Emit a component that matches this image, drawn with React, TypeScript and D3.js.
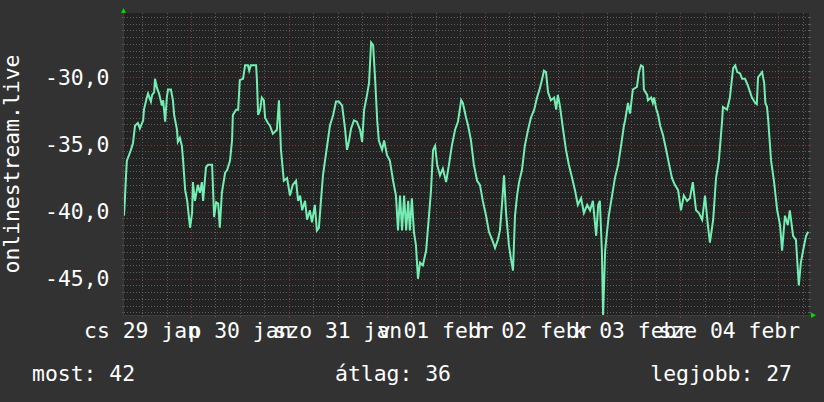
import React from 'react';
import * as d3 from 'd3';

// ---- data ----
const START = Date.UTC(2015, 0, 29, 7, 34);
const SPAN_HOURS = 168;
const hoursFromStart = [
  0, 0.2, 0.5, 0.7, 1.2, 1.7, 2.2, 2.7, 3.4, 3.9, 4.7, 4.9, 5.6, 5.9, 6.6, 6.9, 7.4, 7.6, 8.1, 8.6,
  9.3, 9.6, 10.1, 10.5, 10.8, 11.5, 12.0, 12.3, 13.0, 13.2, 13.7, 14.2, 14.5, 15.0, 15.5, 16.2, 16.7, 16.9, 17.4, 18.1,
  18.6, 19.1, 19.4, 20.1, 20.6, 21.6, 21.8, 22.1, 22.6, 23.1, 23.5, 24.0, 24.8, 25.3, 26.0, 26.5, 26.7, 27.5, 28.0, 28.4,
  29.2, 29.7, 30.4, 30.7, 31.1, 32.4, 32.6, 32.9, 33.4, 33.8, 34.3, 34.6, 35.3, 35.8, 36.5, 37.5, 38.0, 38.5, 39.2, 40.0,
  40.7, 41.4, 42.2, 42.7, 43.2, 43.7, 44.4, 44.9, 45.6, 46.1, 46.8, 47.3, 47.8, 48.3, 48.8, 49.3, 50.0, 50.5, 51.3, 52.0,
  52.7, 53.5, 54.2, 54.7, 55.2, 55.7, 56.4, 57.1, 57.9, 58.4, 58.9, 59.6, 60.1, 60.6, 61.1, 61.6, 62.1, 62.5, 63.3, 63.8,
  64.5, 65.2, 66.0, 66.7, 67.2, 67.7, 68.2, 68.7, 69.2, 69.7, 70.1, 70.6, 71.1, 71.6, 72.1, 72.6, 73.3, 74.1, 74.8, 75.3,
  75.8, 76.3, 76.8, 77.5, 78.2, 79.0, 79.7, 80.4, 81.2, 81.9, 82.7, 83.1, 83.9, 84.4, 85.1, 85.8, 86.6, 87.3, 88.0, 88.8,
  89.5, 90.3, 91.0, 91.7, 92.2, 92.7, 93.2, 93.7, 94.4, 94.9, 95.4, 95.9, 96.4, 96.9, 97.6, 98.3, 99.1, 99.8, 100.6, 101.3,
  102.0, 102.5, 103.0, 103.5, 104.0, 104.7, 105.5, 106.0, 106.4, 106.9, 107.7, 108.4, 109.1, 109.9, 110.6, 111.3, 112.1, 112.8, 113.6, 114.3,
  115.0, 115.8, 116.3, 116.7, 117.2, 117.5, 118.0, 118.5, 118.9, 119.7, 120.4, 121.2, 121.9, 122.6, 122.9, 123.6, 124.1, 124.8, 125.8, 126.3,
  126.8, 127.3, 127.5, 128.3, 128.5, 129.3, 129.7, 130.0, 130.5, 131.0, 131.5, 132.2, 132.9, 133.7, 134.4, 135.1, 135.9, 136.6, 137.3, 138.1,
  138.8, 139.5, 140.3, 141.0, 141.8, 142.5, 143.2, 143.7, 144.5, 145.2, 145.9, 146.7, 146.9, 147.9, 148.6, 149.4, 149.9, 150.4, 151.1, 151.6,
  152.3, 153.0, 154.0, 154.8, 155.2, 155.5, 156.5, 157.0, 157.3, 157.7, 158.0, 158.7, 159.4, 160.2, 160.9, 161.4, 162.1, 162.8, 163.3, 164.1,
  164.8, 165.5, 166.0, 166.8, 167.3, 167.8,
];
const signalValues = [
  -40.3, -39.2, -37.3, -36.2, -35.8, -35.4, -34.9, -33.6, -33.4, -33.8, -33.2, -32.4, -31.5, -31.2, -31.8, -31.3, -31.1, -30.1, -30.8, -31.2,
  -32.1, -31.7, -33.3, -31.5, -30.9, -30.9, -31.7, -32.8, -33.9, -34.8, -34.5, -35.1, -36.2, -38.4, -39.2, -41.2, -40.1, -37.8, -39.2, -38.0,
  -38.6, -37.8, -39.2, -36.7, -36.5, -36.5, -38.0, -40.4, -39.3, -39.4, -41.2, -38.6, -37.1, -36.9, -36.2, -34.7, -32.8, -32.4, -32.4, -30.2,
  -30.1, -29.1, -29.1, -29.5, -29.1, -29.1, -30.2, -32.8, -32.4, -31.5, -31.7, -33.0, -33.4, -33.6, -34.2, -33.9, -31.7, -35.4, -37.7, -37.5,
  -38.8, -38.0, -37.7, -39.2, -38.8, -39.9, -39.2, -40.6, -39.9, -40.8, -39.5, -41.4, -41.2, -39.2, -37.3, -36.2, -34.7, -33.6, -32.8, -31.8,
  -31.8, -32.1, -33.8, -35.4, -34.7, -33.8, -33.2, -33.3, -33.9, -34.8, -32.4, -31.3, -30.4, -27.4, -27.6, -30.2, -33.2, -34.7, -35.4, -34.7,
  -35.8, -36.2, -37.7, -38.8, -41.4, -38.8, -41.4, -38.8, -41.4, -39.2, -41.4, -39.0, -41.5, -42.5, -45.0, -43.8, -44.0, -42.9, -40.3, -38.4,
  -35.4, -35.1, -36.5, -37.3, -36.8, -37.8, -36.5, -35.1, -33.9, -33.3, -31.7, -31.9, -33.0, -33.6, -34.7, -36.5, -37.7, -38.0, -39.2, -40.3,
  -41.5, -42.1, -42.7, -42.1, -41.4, -39.5, -37.3, -40.1, -42.5, -43.5, -44.4, -40.3, -38.8, -37.8, -36.9, -35.1, -33.9, -33.0, -32.4, -31.5,
  -30.8, -30.2, -29.5, -29.6, -31.1, -31.7, -31.5, -32.4, -31.3, -32.1, -33.9, -35.4, -36.5, -37.5, -38.4, -39.5, -39.0, -40.1, -39.5, -39.9,
  -39.2, -41.8, -39.5, -39.2, -42.9, -47.7, -42.9, -41.4, -40.3, -38.8, -37.5, -36.5, -35.1, -33.6, -33.2, -31.9, -32.7, -30.9, -30.7, -29.6,
  -29.1, -29.2, -30.9, -31.3, -31.7, -31.5, -31.9, -31.5, -32.3, -32.8, -33.6, -34.3, -35.3, -36.5, -37.5, -38.0, -38.4, -39.9, -38.8, -39.2,
  -39.0, -37.8, -39.9, -40.1, -40.6, -38.8, -41.0, -42.3, -40.6, -37.5, -36.2, -33.2, -32.2, -32.4, -31.5, -29.3, -29.1, -29.6, -29.7, -30.1,
  -30.1, -30.6, -31.5, -31.9, -32.0, -30.0, -29.6, -30.4, -31.9, -32.2, -33.2, -36.2, -37.7, -39.9, -41.0, -42.9, -40.3, -41.0, -39.9, -41.8,
  -42.1, -45.5, -43.8, -42.5, -41.8, -41.5,
];
const yDomain = [-47.7, -25.2];
const yTicks = [-45, -40, -35, -30];
const dayLabels = ['cs 29 jan', 'p 30 jan', 'szo 31 jan', 'v 01 febr', 'h 02 febr', 'k 03 febr', 'sze 04 febr'];
const dayDates = [
  Date.UTC(2015, 0, 29), Date.UTC(2015, 0, 30), Date.UTC(2015, 0, 31), Date.UTC(2015, 1, 1),
  Date.UTC(2015, 1, 2), Date.UTC(2015, 1, 3), Date.UTC(2015, 1, 4),
];
const axisTitle = 'onlinestream.live';
const legendNames = ['most', 'átlag', 'legjobb'];
const legendValues = [42, 36, 27];

// ---- layout / style ----
const W = 824, H = 402;
const X0 = 124, X1 = 809, Y0 = 315, Y1 = 13;
const FONT = '"DejaVu Sans Mono", monospace';
const FS = 21.4;
const BG = '#323232';
const CANVAS = '#232323';
const GRID = '#5e5e5e';
const MGRID = '#7a3a3a';
const LINE = '#74eeb2';
const ARROW = '#00dc00';

export default function App() {
  const x = d3.scaleUtc().domain([new Date(START), new Date(START + SPAN_HOURS * 3600e3)]).range([X0, X1]);
  const y = d3.scaleLinear().domain(yDomain).range([Y0, Y1]);
  const pts = hoursFromStart.map((h, i) => ({ t: new Date(START + h * 3600e3), v: signalValues[i] }));
  const line = d3.line<{ t: Date; v: number }>().x(d => x(d.t)).y(d => y(d.v));

  const [d0, d1] = x.domain();
  const minorV = d3.utcHour.every(6)!.range(d0, d1).filter(t => t.getUTCHours() !== 0);
  const majorV = d3.utcDay.range(d0, d1);
  const minorH = d3.range(-95, -50).map(i => i / 2).filter(v => v % 5 !== 0 && v > yDomain[0] && v < yDomain[1]);
  const fmt = (v: number) => d3.format('.1f')(v).replace('.', ',').replace('−', '-');

  const legendX = [32, 335, 792];
  const legendAnchor = ['start', 'start', 'end'];

  return (
    <svg width={W} height={H} style={{ position: 'absolute', left: 0, top: 0 }} fontFamily={FONT}>
      <rect x={0} y={0} width={W} height={H} fill={BG} />
      <rect x={X0 - 0.5} y={Y1} width={X1 - X0 + 0.5} height={Y0 - Y1} fill={CANVAS} />
      {/* horizontal grid */}
      {minorH.map(v => (
        <g key={'h' + v}>
          <line x1={X0} x2={X1} y1={Math.round(y(v)) + 0.5} y2={Math.round(y(v)) + 0.5} stroke={GRID} strokeDasharray="1,2" />
          <line x1={X0 - 2} x2={X0} y1={Math.round(y(v)) + 0.5} y2={Math.round(y(v)) + 0.5} stroke={GRID} />
          <line x1={X1} x2={X1 + 2} y1={Math.round(y(v)) + 0.5} y2={Math.round(y(v)) + 0.5} stroke={GRID} />
        </g>
      ))}
      {/* vertical grid */}
      {minorV.map(t => (
        <g key={'v' + +t}>
          <line x1={Math.round(x(t)) + 0.5} x2={Math.round(x(t)) + 0.5} y1={Y1} y2={Y0} stroke={GRID} strokeDasharray="1,2" />
          <line x1={Math.round(x(t)) + 0.5} x2={Math.round(x(t)) + 0.5} y1={Y0} y2={Y0 + 2} stroke={GRID} />
        </g>
      ))}
      {yTicks.map(v => (
        <g key={'H' + v}>
          <line x1={X0} x2={X1} y1={Math.round(y(v)) + 0.5} y2={Math.round(y(v)) + 0.5} stroke={MGRID} strokeDasharray="1,2" />
          <line x1={X0 - 2} x2={X0} y1={Math.round(y(v)) + 0.5} y2={Math.round(y(v)) + 0.5} stroke={MGRID} />
          <line x1={X1} x2={X1 + 2} y1={Math.round(y(v)) + 0.5} y2={Math.round(y(v)) + 0.5} stroke={MGRID} />
        </g>
      ))}
      {majorV.map(t => (
        <g key={'V' + +t}>
          <line x1={Math.round(x(t)) + 0.5} x2={Math.round(x(t)) + 0.5} y1={Y1} y2={Y0} stroke={MGRID} strokeDasharray="1,2" />
          <line x1={Math.round(x(t)) + 0.5} x2={Math.round(x(t)) + 0.5} y1={Y0} y2={Y0 + 3} stroke={MGRID} />
        </g>
      ))}
      {/* axes */}
      <line x1={X0 - 0.5} x2={X0 - 0.5} y1={Y1 - 2} y2={Y0 + 2} stroke="#3c3c3c" />
      <line x1={X0 - 2} x2={X1 + 2} y1={Y0 + 0.5} y2={Y0 + 0.5} stroke="#3c3c3c" />
      <path d={`M${X0 - 3},${Y1} L${X0 + 2},${Y1} L${X0 - 0.5},${Y1 - 5} Z`} fill={ARROW} />
      <path d={`M${X1 + 2},${Y0 - 2.5} L${X1 + 2},${Y0 + 3} L${X1 + 7},${Y0 + 0.25} Z`} fill={ARROW} />
      {/* data line */}
      <defs>
        <clipPath id="plotclip">
          <rect x={X0} y={Y1} width={X1 - X0} height={Y0 - Y1 + 1} />
        </clipPath>
      </defs>
      <path d={line(pts) || ''} fill="none" stroke={LINE} strokeWidth={2} clipPath="url(#plotclip)" strokeLinejoin="miter" />
      {/* y tick labels */}
      {yTicks.map(v => (
        <text key={'yl' + v} x={109.5} y={y(v) + 7.6} textAnchor="end" fill="#fff" fontSize={FS}>{fmt(v)}</text>
      ))}
      {/* x labels */}
      {dayLabels.map((lbl, i) => (
        <text key={'xl' + i} x={x(new Date(dayDates[i] + 12 * 3600e3))} y={338} textAnchor="middle" fill="#fff" fontSize={FS}>{lbl}</text>
      ))}
      {/* axis title */}
      <text transform={`translate(18.5,${(Y0 + Y1) / 2}) rotate(-90)`} textAnchor="middle" fill="#fff" fontSize={FS}>{axisTitle}</text>
      {/* legend */}
      {legendNames.map((n, i) => (
        <text key={'lg' + i} x={legendX[i]} y={381} textAnchor={legendAnchor[i] as any} fill="#fff" fontSize={FS}>{`${n}: ${legendValues[i]}`}</text>
      ))}
    </svg>
  );
}
